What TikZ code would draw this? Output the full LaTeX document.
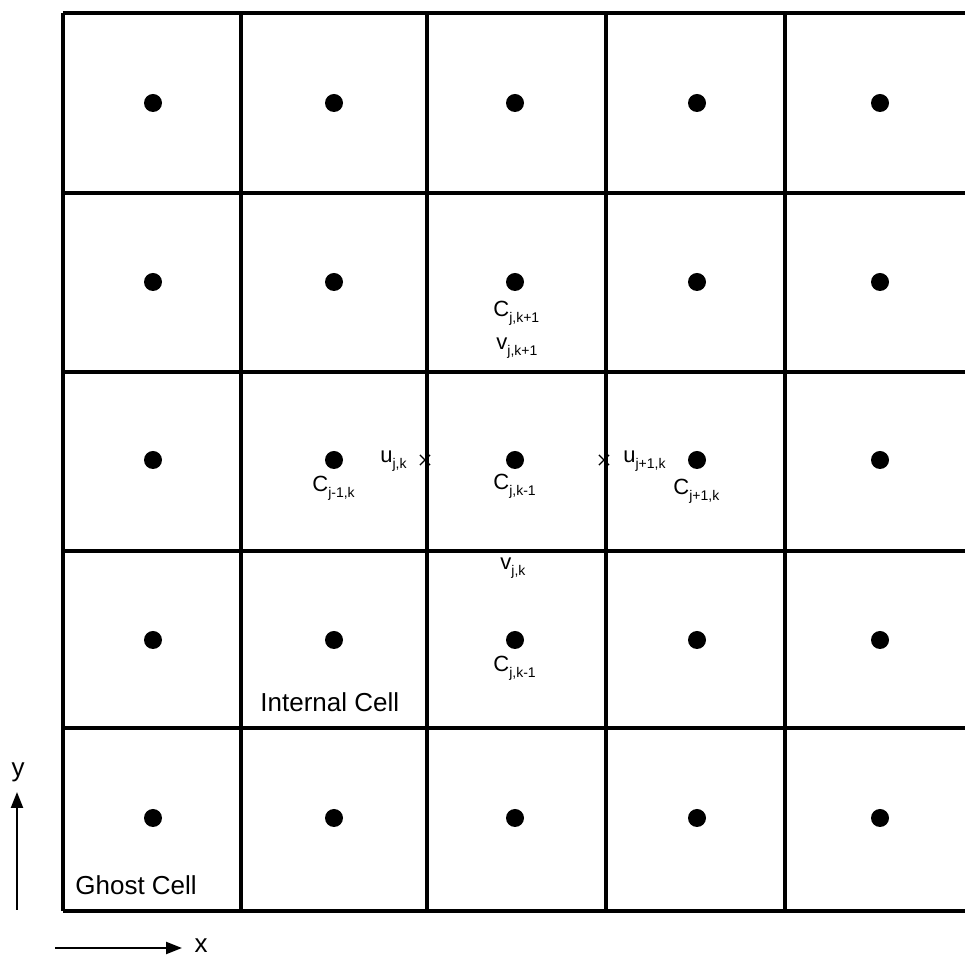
\documentclass[tikz,border=0pt]{standalone}
\usepackage{fontspec}
\setmainfont{Liberation Sans}
\definecolor{ink}{RGB}{0,0,0}
\usetikzlibrary{arrows.meta,shapes.misc}
\newcommand{\cellvar}[2]{#1\raisebox{-3pt}{\fontsize{7}{7}\selectfont #2}}

\begin{document}
\begin{tikzpicture}[x=0.5pt,y=-0.5pt,
    gridline/.style={ink,line width=1.6pt},
    cellpt/.style={circle,fill=ink,inner sep=0pt,minimum size=9pt},
    facept/.style={cross out,draw=ink,line width=0.6pt,inner sep=0pt,minimum size=4.5pt},
    varlbl/.style={font=\fontsize{11}{11}\selectfont,text=ink,inner sep=0pt,anchor=base west},
    celllbl/.style={font=\fontsize{13}{13}\selectfont,text=ink,inner sep=0pt,anchor=base west},
    axis/.style={ink,line width=1.1pt,-{Triangle[length=8pt,width=6pt]}}]
        \useasboundingbox (0,0) rectangle (965,961);
        \foreach \yy in {13,193,372,551,728,911}
          \draw[gridline] (63,\yy) -- (965,\yy);
        \foreach \xx in {63,241,427,606,785}
          \draw[gridline] (\xx,13) -- (\xx,911);
        \foreach \yy [count=\r] in {103,282,460,640,818}
          \foreach \xx [count=\c] in {153,334,515,697,880}
            \node[cellpt] (dot-\r-\c) at (\xx,\yy) {};
        \node[facept] (uL) at (425,460) {};
        \node[facept] (uR) at (604,460) {};
        \node[varlbl] (cN) at (493,317) {\cellvar{C}{j,k+1}};
        \node[varlbl] (vN) at (496,350) {\cellvar{v}{j,k+1}};
        \node[varlbl] (uW) at (380,463) {\cellvar{u}{j,k}};
        \node[varlbl] (uE) at (623,463) {\cellvar{u}{j+1,k}};
        \node[varlbl] (cW) at (312,492) {\cellvar{C}{j-1,k}};
        \node[varlbl] (cC) at (493,490) {\cellvar{C}{j,k-1}};
        \node[varlbl] (cE) at (673,495) {\cellvar{C}{j+1,k}};
        \node[varlbl] (vS) at (500,570) {\cellvar{v}{j,k}};
        \node[varlbl] (cS) at (493,672) {\cellvar{C}{j,k-1}};
        \node[celllbl] (internal) at (260,712) {Internal Cell};
        \node[celllbl] (ghost) at (75,895) {Ghost Cell};
        \coordinate (yfoot) at (17,910);
        \coordinate (ytip) at (17,792);
        \coordinate (xfoot) at (55,948);
        \coordinate (xtip) at (182,948);
        \draw[axis] (yfoot) -- (ytip);
        \draw[axis] (xfoot) -- (xtip);
        \node[font=\fontsize{13}{13}\selectfont,text=ink] (ylbl) at (18,772) {y};
        \node[font=\fontsize{13}{13}\selectfont,text=ink] (xlbl) at (201,946) {x};
      \end{tikzpicture}
\end{document}
